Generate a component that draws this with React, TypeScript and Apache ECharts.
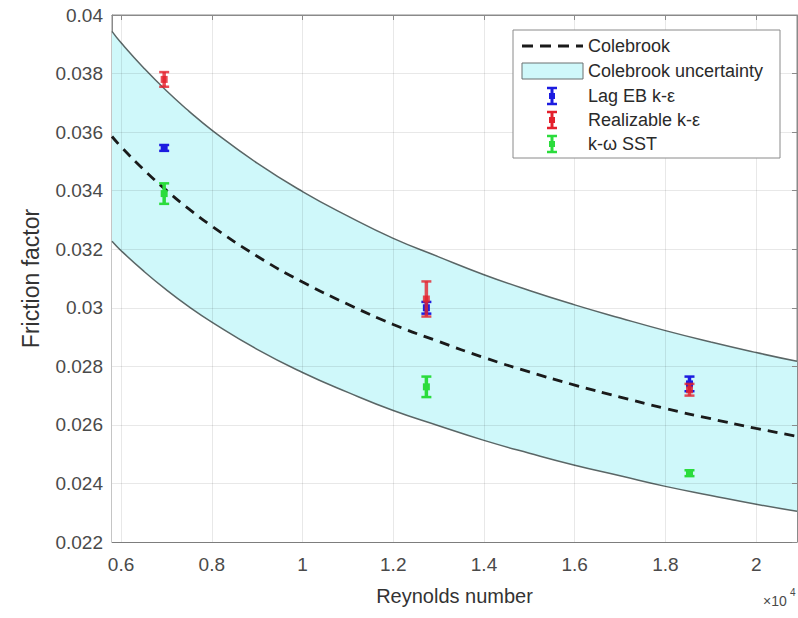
import React, { useEffect, useRef } from "react";
import * as echarts from "echarts";

// Reynolds number (×10^4) sample positions for the curves
const CURVE_RE = [0.58, 0.6, 0.65, 0.7, 0.75, 0.8, 0.9, 1.0, 1.1, 1.2, 1.3, 1.4, 1.5, 1.6, 1.7, 1.8, 1.9, 2.0, 2.09];
const COLEBROOK = [0.03585, 0.0355, 0.03472, 0.03401, 0.03337, 0.03279, 0.03176, 0.03088, 0.03012, 0.02943, 0.02885, 0.0283, 0.02781, 0.02736, 0.02695, 0.02656, 0.02621, 0.02588, 0.02561];
const UPPER = [0.03944, 0.03905, 0.03819, 0.03741, 0.03671, 0.03607, 0.03494, 0.03397, 0.03313, 0.03237, 0.03174, 0.03113, 0.03059, 0.0301, 0.02965, 0.02922, 0.02883, 0.02847, 0.02817];
const LOWER = [0.03227, 0.03195, 0.03125, 0.03061, 0.03003, 0.02951, 0.02858, 0.02779, 0.02711, 0.02649, 0.02597, 0.02547, 0.02503, 0.02462, 0.02426, 0.0239, 0.02359, 0.02329, 0.02305];

// CFD results with error bars
const ERR_RE = [0.695, 1.273, 1.853];
const LAG_EB = [0.03546, 0.03, 0.0274];
const LAG_EB_ERR = [0.0001, 0.0002, 0.00025];
const REALIZABLE = [0.0378, 0.0303, 0.0272];
const REALIZABLE_ERR = [0.00025, 0.0006, 0.0002];
const SST = [0.0339, 0.0273, 0.02435];
const SST_ERR = [0.00035, 0.00035, 0.0001];

const X_TICKS = [0.6, 0.8, 1, 1.2, 1.4, 1.6, 1.8, 2];
const X_MIN = 0.58;
const X_MAX = 2.09;

const FONT = "Liberation Sans, Arial, sans-serif";
const BLUE = "#1c1ce0";
const RED = "#e3202c";
const GREEN = "#2bdc3c";
const EDGE = "#5a6666";
const GRID = "rgba(0,0,0,0.09)";

function errSeries(name: string, color: string, centers: number[], errs: number[], opacity: number) {
  return {
    type: "custom",
    name,
    xAxisIndex: 0,
    yAxisIndex: 0,
    z: 5,
    data: ERR_RE.map((x, i) => [x, centers[i], errs[i]]),
    renderItem: (_p: any, api: any) => {
      const x = api.value(0);
      const c = api.value(1);
      const e = api.value(2);
      const top = api.coord([x, c + e]);
      const bot = api.coord([x, c - e]);
      const mid = api.coord([x, c]);
      const hw = 5;
      return {
        type: "group",
        children: [
          { type: "line", shape: { x1: top[0], y1: top[1], x2: bot[0], y2: bot[1] }, style: { stroke: color, lineWidth: 3.5, opacity } },
          { type: "line", shape: { x1: top[0] - hw, y1: top[1], x2: top[0] + hw, y2: top[1] }, style: { stroke: color, lineWidth: 2.5, opacity } },
          { type: "line", shape: { x1: bot[0] - hw, y1: bot[1], x2: bot[0] + hw, y2: bot[1] }, style: { stroke: color, lineWidth: 2.5, opacity } },
          { type: "rect", shape: { x: mid[0] - 3.5, y: mid[1] - 3.5, width: 7, height: 7 }, style: { fill: color, opacity } },
        ],
      };
    },
  };
}

export default function App() {
  const ref = useRef<HTMLDivElement>(null);
  useEffect(() => {
    if (!ref.current) return;
    const chart = echarts.init(ref.current, undefined, { renderer: "svg" });
    const axisColor = "#8a8a8a";
    const labelColor = "#4a4a4a";
    const legendX = 513, legendY = 30, legendW = 267, legendH = 128;
    const rowY = [46, 71, 96, 120, 144];
    const symX1 = 522, symX2 = 583, textX = 588;
    const Z = 100;
    const errIcon = (y: number, color: string) => [
      { type: "line", z: Z, shape: { x1: 552, y1: y - 8, x2: 552, y2: y + 8 }, style: { stroke: color, lineWidth: 3 } },
      { type: "line", z: Z, shape: { x1: 547, y1: y - 8, x2: 557, y2: y - 8 }, style: { stroke: color, lineWidth: 2.5 } },
      { type: "line", z: Z, shape: { x1: 547, y1: y + 8, x2: 557, y2: y + 8 }, style: { stroke: color, lineWidth: 2.5 } },
      { type: "rect", z: Z, shape: { x: 549, y: y - 3, width: 6, height: 6 }, style: { fill: color } },
    ];
    const legendText = (y: number, t: string) => ({
      type: "text",
      z: Z,
      x: textX,
      y,
      style: { text: t, font: `18px ${FONT}`, fill: "#2a2a2a", textVerticalAlign: "middle" },
    });
    chart.setOption({
      animation: false,
      backgroundColor: "#ffffff",
      grid: { left: 112, top: 15, right: 1, bottom: 76, show: true, borderColor: axisColor, borderWidth: 1, backgroundColor: "transparent" },
      xAxis: [
        {
          type: "value",
          min: X_MIN,
          max: X_MAX,
          position: "bottom",
          axisLine: { show: true, lineStyle: { color: axisColor } },
          axisTick: { show: true, inside: true, length: 5, lineStyle: { color: axisColor }, customValues: X_TICKS },
          axisLabel: { customValues: X_TICKS, color: labelColor, fontSize: 19, fontFamily: FONT, margin: 13, formatter: (v: number) => String(+v.toFixed(2)) },
          splitLine: { show: false },
          name: "Reynolds number",
          nameLocation: "middle",
          nameGap: 44,
          nameTextStyle: { fontSize: 20, color: "#333", fontFamily: FONT },
        },
        {
          type: "value",
          min: X_MIN,
          max: X_MAX,
          position: "top",
          z: 2,
          axisLine: { show: true, lineStyle: { color: axisColor } },
          axisTick: { show: true, inside: true, length: 5, lineStyle: { color: axisColor }, customValues: X_TICKS },
          axisLabel: { show: false, customValues: X_TICKS },
          splitLine: { show: true, lineStyle: { color: GRID, width: 1 } },
        },
      ],
      yAxis: [
        {
          type: "value",
          min: 0.022,
          max: 0.04,
          interval: 0.002,
          axisLine: { show: true, lineStyle: { color: axisColor } },
          axisTick: { show: true, inside: true, length: 5, lineStyle: { color: axisColor } },
          axisLabel: { color: labelColor, fontSize: 19, fontFamily: FONT, margin: 9, formatter: (v: number) => String(+v.toFixed(3)) },
          splitLine: { show: false },
          name: "Friction factor",
          nameLocation: "middle",
          nameGap: 70,
          nameTextStyle: { fontSize: 23, color: "#333", fontFamily: FONT },
        },
        {
          type: "value",
          min: 0.022,
          max: 0.04,
          interval: 0.002,
          position: "right",
          z: 2,
          axisLine: { show: true, lineStyle: { color: axisColor } },
          axisTick: { show: true, inside: true, length: 5, lineStyle: { color: axisColor } },
          axisLabel: { show: false },
          splitLine: { show: true, lineStyle: { color: GRID, width: 1 } },
        },
      ],
      series: [
        {
          type: "line",
          name: "Colebrook uncertainty",
          z: 1,
          smooth: true,
          showSymbol: false,
          symbol: "none",
          data: CURVE_RE.map((x, i) => [x, UPPER[i]]),
          lineStyle: { color: EDGE, width: 1.5 },
          areaStyle: { color: "#cff8fa", opacity: 1, origin: "start" },
        },
        {
          type: "line",
          name: "uncertainty lower",
          z: 1,
          smooth: true,
          showSymbol: false,
          symbol: "none",
          data: CURVE_RE.map((x, i) => [x, LOWER[i]]),
          lineStyle: { color: EDGE, width: 1.5 },
          areaStyle: { color: "#ffffff", opacity: 1, origin: "start" },
        },
        {
          type: "line",
          name: "Colebrook",
          z: 3,
          data: CURVE_RE.map((x, i) => [x, COLEBROOK[i]]),
          smooth: true,
          showSymbol: false,
          symbol: "none",
          lineStyle: { color: "#1a1a1a", width: 2.8, type: [10, 7] },
        },
        errSeries("Lag EB k-ε", BLUE, LAG_EB, LAG_EB_ERR, 1),
        errSeries("Realizable k-ε", RED, REALIZABLE, REALIZABLE_ERR, 0.8),
        errSeries("k-ω SST", GREEN, SST, SST_ERR, 1),
      ],
      graphic: [
        {
          type: "rect",
          z: Z,
          shape: { x: legendX, y: legendY, width: legendW, height: legendH },
          style: { fill: "#ffffff", stroke: "#8a8a8a", lineWidth: 1 },
        },
        { type: "line", z: Z, shape: { x1: symX1, y1: rowY[0], x2: symX2, y2: rowY[0] }, style: { stroke: "#1a1a1a", lineWidth: 2.8, lineDash: [11, 7] } },
        { type: "rect", z: Z, shape: { x: symX1, y: rowY[1] - 8, width: symX2 - symX1, height: 16 }, style: { fill: "#cff8fa", stroke: "#6a7070", lineWidth: 1 } },
        ...errIcon(rowY[2], BLUE),
        ...errIcon(rowY[3], RED),
        ...errIcon(rowY[4], GREEN),
        legendText(rowY[0], "Colebrook"),
        legendText(rowY[1], "Colebrook uncertainty"),
        legendText(rowY[2], "Lag EB k-ε"),
        legendText(rowY[3], "Realizable k-ε"),
        legendText(rowY[4], "k-ω SST"),
        {
          type: "text",
          z: Z,
          x: 763,
          y: 594,
          style: { text: "×10", font: `14px ${FONT}`, fill: "#4a4a4a" },
        },
        {
          type: "text",
          z: Z,
          x: 790,
          y: 587,
          style: { text: "4", font: `10px ${FONT}`, fill: "#4a4a4a" },
        },
      ],
    });
    return () => chart.dispose();
  }, []);
  return <div ref={ref} style={{ position: "fixed", left: 0, top: 0, width: 798, height: 618 }} />;
}
